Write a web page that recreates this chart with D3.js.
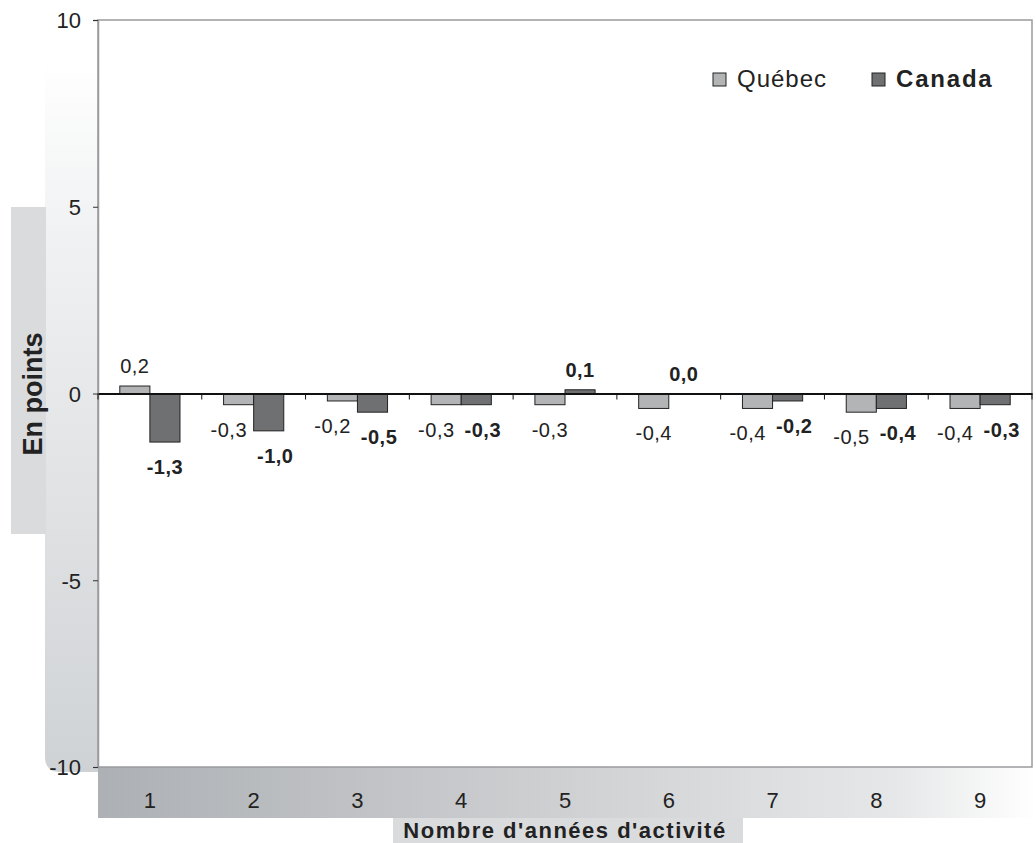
<!DOCTYPE html>
<html><head><meta charset="utf-8">
<script src="https://cdn.jsdelivr.net/npm/d3@7"></script>
<style>body{margin:0;background:#fff}svg{display:block}text{font-family:"Liberation Sans",Arial,Helvetica,sans-serif}</style>
</head><body>
<svg id="c" width="1036" height="843"></svg>
<script>
const categories = ["1","2","3","4","5","6","7","8","9"];
const series = ["Québec","Canada"];
const quebec = [0.2,-0.3,-0.2,-0.3,-0.3,-0.4,-0.4,-0.5,-0.4];
const canada = [-1.3,-1.0,-0.5,-0.3,0.1,0.0,-0.2,-0.4,-0.3];
const yTicks = [-10,-5,0,5,10];
const colors = {"Québec":"#b3b4b6","Canada":"#6f7072"};

const svg = d3.select("#c");
const m = {left:98, top:20, right:1032, bottom:767};
const defs = svg.append("defs");
const gv = defs.append("linearGradient").attr("id","gv").attr("x1",0).attr("y1",0).attr("x2",0).attr("y2",1);
gv.append("stop").attr("offset","0").attr("stop-color","#ffffff");
gv.append("stop").attr("offset","0.25").attr("stop-color","#f0f1f2");
gv.append("stop").attr("offset","1").attr("stop-color","#cfd2d5");
const gh = defs.append("linearGradient").attr("id","gh").attr("x1",0).attr("y1",0).attr("x2",1).attr("y2",0);
gh.append("stop").attr("offset","0").attr("stop-color","#adb0b4");
gh.append("stop").attr("offset","0.85").attr("stop-color","#e6e7e8");
gh.append("stop").attr("offset","1").attr("stop-color","#ffffff");

// decorative strips
svg.append("path").attr("d",`M45,60 H98 V772 H60 Q45,772 45,757 Z`).attr("fill","url(#gv)");
svg.append("rect").attr("x",11).attr("y",207).attr("width",35).attr("height",327).attr("fill","#d9dbdd");
svg.append("rect").attr("x",98).attr("y",767).attr("width",938).attr("height",51).attr("fill","url(#gh)");
svg.append("rect").attr("x",393).attr("y",818).attr("width",350).attr("height",25).attr("fill","#d9dbdd");
svg.append("rect").attr("x",m.left).attr("y",m.top).attr("width",m.right-m.left).attr("height",m.bottom-m.top).attr("fill","#fff");

const y = d3.scaleLinear().domain([-10,10]).range([m.bottom,m.top]);
const x0 = d3.scaleBand().domain(categories).range([m.left,m.right]).padding(0);
const bw = x0.bandwidth();
const x1 = d3.scaleBand().domain(series).range([bw*0.21,bw*0.79]).padding(0);

// border
svg.append("rect").attr("x",m.left).attr("y",m.top).attr("width",m.right-m.left).attr("height",m.bottom-m.top)
  .attr("fill","none").attr("stroke","#9a9b9e").attr("stroke-width",1.5);

// y axis
const ya = svg.append("g").attr("transform",`translate(${m.left},0)`)
  .call(d3.axisLeft(y).tickValues(yTicks).tickSize(5).tickPadding(12).tickFormat(d=>d));
ya.attr("font-family",null);
ya.select(".domain").attr("stroke","#9a9b9e").attr("stroke-width",1.5);
ya.selectAll(".tick line").attr("stroke","#333");
ya.selectAll(".tick text").attr("font-size",22).attr("fill","#222").attr("dy","0.36em");

// bars
const data = categories.map((c,i)=>({c, vals:[{s:"Québec",v:quebec[i]},{s:"Canada",v:canada[i]}]}));
const g = svg.append("g");
const grp = g.selectAll("g.cat").data(data).join("g").attr("transform",d=>`translate(${x0(d.c)},0)`);
grp.selectAll("rect").data(d=>d.vals).join("rect")
  .attr("x",d=>x1(d.s)).attr("width",x1.bandwidth())
  .attr("y",d=>y(Math.max(0,d.v))).attr("height",d=>Math.abs(y(d.v)-y(0)))
  .attr("fill",d=>colors[d.s]).attr("stroke","#222").attr("stroke-width",1);

const fmt = v => v.toFixed(1).replace(".",",");
grp.each(function(d){
  const gg = d3.select(this);
  const t = gg.selectAll("text").data(d.vals).join("text")
    .attr("x",e=>x1(e.s)+x1.bandwidth()/2)
    .attr("y",e=>e.v>=0 ? y(e.v)-13 : y(e.v)+32)
    .attr("text-anchor","middle").attr("font-size",20).attr("letter-spacing",0.5)
    .attr("font-weight",e=>e.s==="Canada"?"bold":"normal")
    .attr("fill","#222").text(e=>fmt(e.v));
  // push apart labels on the same side of the axis
  if ((d.vals[0].v<0) === (d.vals[1].v<0)) {
    const nodes = t.nodes();
    const w0 = nodes[0].getComputedTextLength(), w1 = nodes[1].getComputedTextLength();
    const need = (w0+w1)/2 + 10, have = x1.step();
    if (need > have) {
      const extra = need - have;
      d3.select(nodes[0]).attr("x", +nodes[0].getAttribute("x") - extra*0.6);
      d3.select(nodes[1]).attr("x", +nodes[1].getAttribute("x") + extra*0.4);
    }
  }
});

// zero axis
const xa = svg.append("g").attr("transform",`translate(0,${y(0)})`)
  .call(d3.axisBottom(x0).tickSize(0).tickFormat(""));
xa.select(".domain").attr("stroke","#111").attr("stroke-width",2);
svg.append("g").selectAll("line").data(d3.range(categories.length+1)).join("line")
  .attr("x1",i=>m.left+i*bw).attr("x2",i=>m.left+i*bw)
  .attr("y1",y(0)).attr("y2",y(0)+6).attr("stroke","#111").attr("stroke-width",1);

// category labels
svg.append("g").selectAll("text").data(categories).join("text")
  .attr("x",d=>x0(d)+bw/2).attr("y",808).attr("text-anchor","middle")
  .attr("font-size",22).attr("fill","#222").text(d=>d);

// axis titles
svg.append("text").attr("transform","translate(42,394) rotate(-90)").attr("text-anchor","middle")
  .attr("font-size",27).attr("font-weight","bold").attr("fill","#222").text("En points");
svg.append("text").attr("x",565).attr("y",838).attr("text-anchor","middle")
  .attr("font-size",22).attr("letter-spacing",1.5).attr("font-weight","bold").attr("fill","#222").text("Nombre d'années d'activité");

// legend
const leg = [{s:"Québec",x:713,tx:737,bold:false},{s:"Canada",x:872,tx:896,bold:true}];
const lg = svg.append("g").selectAll("g").data(leg).join("g");
lg.append("rect").attr("x",d=>d.x).attr("y",73).attr("width",13).attr("height",13).attr("fill",d=>colors[d.s]).attr("stroke","#222").attr("stroke-width",1);
lg.append("text").attr("x",d=>d.tx).attr("y",87).attr("font-size",24).attr("letter-spacing",d=>d.bold?1.8:1)
  .attr("font-weight",d=>d.bold?"bold":"normal").attr("fill","#222").text(d=>d.s);
</script>
</body></html>
